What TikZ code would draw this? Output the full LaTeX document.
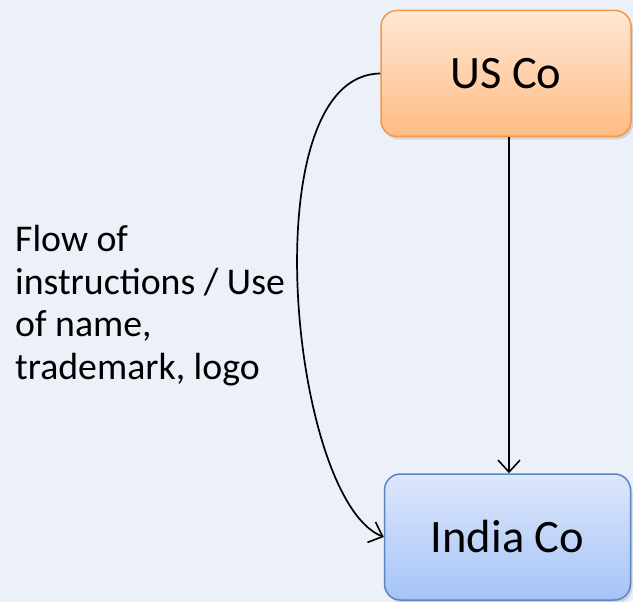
\documentclass[tikz,border=0pt]{standalone}
\usepackage{fontspec}
\setmainfont{Carlito}
\usetikzlibrary{positioning,arrows.meta,shadows}
\definecolor{bgcol}{HTML}{ECF0F8}
\definecolor{usline}{HTML}{F79646}
\definecolor{ustop}{HTML}{FFE8D6}
\definecolor{usbot}{HTML}{FFBC82}
\definecolor{inline}{HTML}{5A87C2}
\definecolor{intop}{HTML}{DDE7FB}
\definecolor{inbot}{HTML}{A6C3F7}

\begin{document}
\begin{tikzpicture}[
    x=1pt, y=-1pt,
    cobox/.style={rectangle, rounded corners=16pt, line width=1.5pt,
        minimum width=250pt, minimum height=126pt,
        font=\fontsize{46.5}{55}\selectfont,
        drop shadow={opacity=0.25, shadow xshift=2pt, shadow yshift=-3pt}},
    flowarrow/.style={draw, line width=1.7pt, -{Straight Barb[length=12pt,width=22pt,line width=1.6pt]}}
]
    % Background
    \useasboundingbox (0,0) rectangle (633,602);
    \fill[bgcol] (0,0) rectangle (633,602);

    % Companies
    \node[cobox, draw=usline, top color=ustop, bottom color=usbot] (usco) at (506,73.5) {US Co};
    \node[cobox, draw=inline, top color=intop, bottom color=inbot, minimum width=246pt] (indiaco) at (507.5,537) {India Co};

    % Arrows
    \draw[flowarrow] (usco.south -| 509,0) -- (indiaco.north -| 509,0);
    \draw[flowarrow] (usco.west) .. controls (250,75) and (290,500) .. (indiaco.west);

    % Label
    \node[anchor=north west, inner sep=0pt, align=left,
        font=\fontsize{37.8}{42.6}\selectfont] (flow) at (15,225)
        {Flow of\\instructions / Use\\of name,\\trademark, logo};
\end{tikzpicture}
\end{document}
